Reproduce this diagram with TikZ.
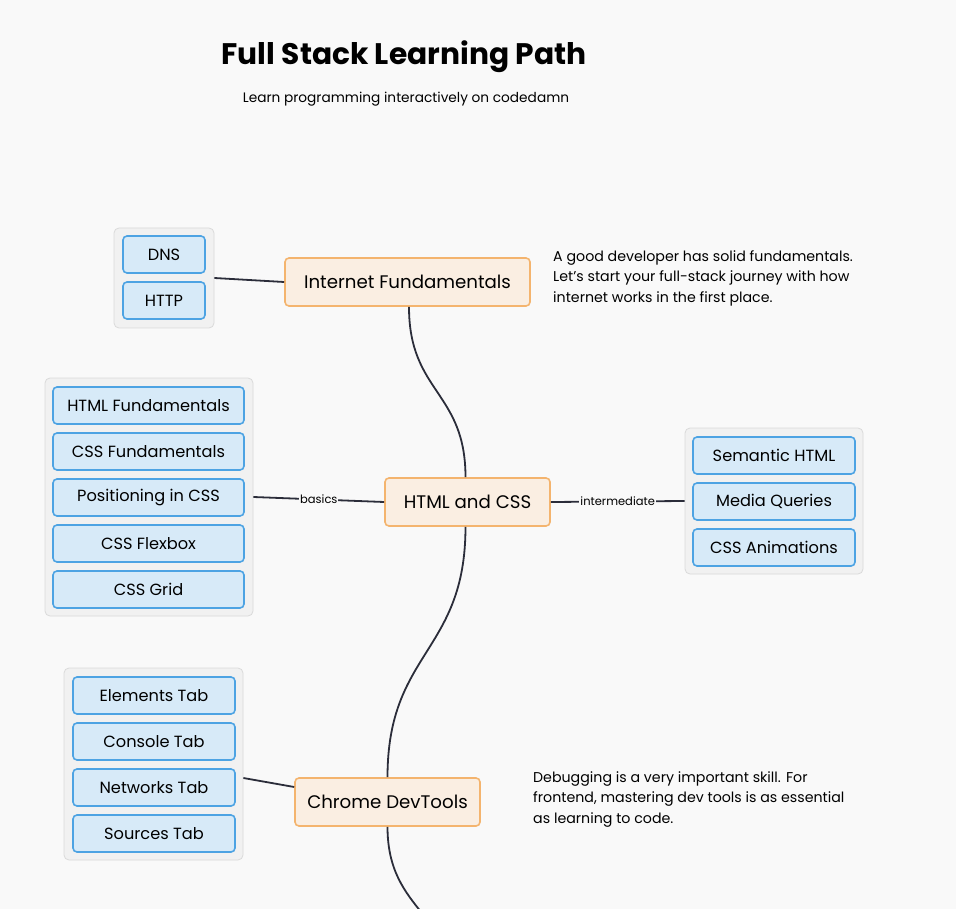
\documentclass[tikz,border=0pt]{standalone}
\usepackage{fontspec}
\setmainfont{Poppins}
\definecolor{bg}{HTML}{F9F9F9}
\definecolor{mainfill}{HTML}{FAEEE2}
\definecolor{maindraw}{HTML}{F4B46E}
\definecolor{subfill}{HTML}{D7EAF8}
\definecolor{subdraw}{HTML}{4DA3E3}
\definecolor{grpfill}{HTML}{F1F1F1}
\definecolor{grpdraw}{HTML}{DADADA}
\definecolor{edgecol}{HTML}{2B2D3A}
\tikzset{
  mainbox/.style={draw=maindraw, fill=mainfill, line width=1.6pt, rounded corners=4pt,
    font=\fontsize{18.2}{21}\selectfont, inner sep=0pt},
  subbox/.style={draw=subdraw, fill=subfill, line width=1.6pt, rounded corners=4pt,
    font=\fontsize{16.2}{19}\selectfont, inner sep=0pt},
  grpbox/.style={draw=grpdraw, fill=grpfill, line width=0.8pt, rounded corners=5pt, inner sep=0pt},
  link/.style={draw=edgecol, line width=1.8pt},
  lbl/.style={fill=bg, font=\fontsize{11.5}{13}\selectfont, inner sep=1pt},
  note/.style={align=left, anchor=north west, font=\fontsize{14.2}{20.8}\selectfont, inner sep=0pt},
}
\begin{document}
\begin{tikzpicture}[x=1pt,y=-1pt]
\fill[bg] (0,0) rectangle (956,909);
\useasboundingbox (0,0) rectangle (956,909);
\clip (0,0) rectangle (956,909);

\node[font=\fontsize{29.7}{34}\selectfont\bfseries] (title) at (404,57) {Full Stack Learning Path};
\node[font=\fontsize{13.7}{16}\selectfont] (subtitle) at (406,99) {Learn programming interactively on codedamn};

% Internet Fundamentals
\node[grpbox, minimum width=100pt, minimum height=100pt] (g1) at (164,278) {};
\node[subbox, minimum width=82pt, minimum height=37pt] (dns) at (164,254.5) {DNS};
\node[subbox, minimum width=82pt, minimum height=37pt] (http) at (164,300.5) {HTTP};
\node[mainbox, minimum width=245pt, minimum height=48pt] (inet) at (407.5,282) {Internet Fundamentals};
\node[note] (note1) at (553,250) {A good developer has solid fundamentals.\\Let's start your full-stack journey with how\\internet works in the first place.};

% HTML and CSS
\node[grpbox, minimum width=208pt, minimum height=238pt] (g2) at (149,497) {};
\foreach \t/\yy/\n in {HTML Fundamentals/405.5/a1, CSS Fundamentals/451.5/a2, Positioning in CSS/497.5/a3, CSS Flexbox/543.5/a4, CSS Grid/589.5/a5}
  \node[subbox, minimum width=191pt, minimum height=37pt] (\n) at (148.5,\yy) {\t};
\node[mainbox, minimum width=165pt, minimum height=48pt] (html) at (467.5,502) {HTML and CSS};
\node[grpbox, minimum width=178pt, minimum height=146pt] (g3) at (774,501) {};
\foreach \t/\yy/\n in {Semantic HTML/455.5/b1, Media Queries/501.5/b2, CSS Animations/547.5/b3}
  \node[subbox, minimum width=162pt, minimum height=37pt] (\n) at (774,\yy) {\t};

% Chrome DevTools
\node[grpbox, minimum width=179pt, minimum height=192pt] (g4) at (153.5,764) {};
\foreach \t/\yy/\n in {Elements Tab/695.5/c1, Console Tab/741.5/c2, Networks Tab/787.5/c3, Sources Tab/833.5/c4}
  \node[subbox, minimum width=162pt, minimum height=37pt] (\n) at (154,\yy) {\t};
\node[mainbox, minimum width=185pt, minimum height=48pt] (chrome) at (387.5,802) {Chrome DevTools};
\node[note] (note2) at (533,771) {Debugging is a very important skill. For\\frontend, mastering dev tools is as essential\\as learning to code.};

\coordinate (next) at (457,1000);

% connectors
\draw[link] (g1.east) -- (inet.west);
\draw[link] (g2.east) -- node[lbl] {basics} (html.west);
\draw[link] (html.east) -- node[lbl] {intermediate} (g3.west);
\draw[link] ([yshift=-14pt]g4.east) -- ([yshift=15pt]chrome.west);
\draw[link] ([xshift=1.5pt]inet.south) .. controls +(0,86) and +(0,-86) .. ([xshift=-2pt]html.north);
\draw[link] ([xshift=-2pt]html.south) .. controls +(0,126) and +(0,-126) .. (chrome.north);
\draw[link] (chrome.south) .. controls +(0,87) and +(0,-87) .. (next);
\end{tikzpicture}
\end{document}
